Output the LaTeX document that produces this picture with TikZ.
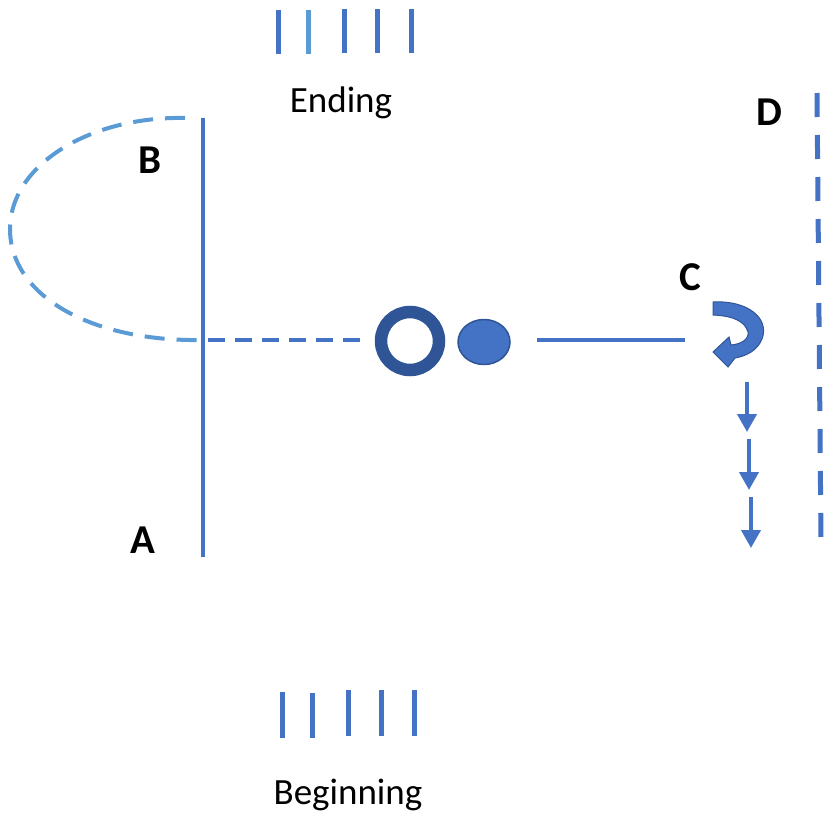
\documentclass[tikz,border=0pt]{standalone}
\usepackage{fontspec}
\setmainfont{Carlito}
\usetikzlibrary{arrows.meta,shapes.geometric}
\definecolor{mblue}{HTML}{4472C4}
\definecolor{lblue}{HTML}{5B9BD5}
\definecolor{dblue}{HTML}{2F5597}
\begin{document}
\begin{tikzpicture}[x=1pt,y=-1pt,
  lbl/.style={font=\fontsize{41}{48}\selectfont\bfseries, text=black, inner sep=0pt},
  captext/.style={font=\fontsize{37}{44}\selectfont, text=black, inner sep=0pt, anchor=base},
  tick/.style={draw=mblue, line width=5pt},
  ltick/.style={draw=lblue, line width=5pt},
  downarrow/.style={draw=mblue, line width=4pt, -{Triangle[width=19pt,length=18pt]}}]
\useasboundingbox (0,0) rectangle (824,814);
% top ticks
\draw[tick] (278,10) -- (278,54);
\draw[ltick] (308,10) -- (308,54);
\draw[tick] (344,9) -- (344,53);
\draw[tick] (377,9) -- (377,53);
\draw[tick] (411,9) -- (411,53);
\node[captext] (ending) at (341,112) {Ending};
% bottom ticks
\draw[tick] (282,692) -- (282,738);
\draw[tick] (312,693) -- (312,738);
\draw[tick] (348,690) -- (348,736);
\draw[tick] (381,690) -- (381,736);
\draw[tick] (414,690) -- (414,736);
\node[captext] (beginning) at (348,804) {Beginning};
% labels
\node[lbl] (B) at (150,160) {B};
\node[lbl] (A) at (143,540) {A};
\node[lbl] (C) at (690,277) {C};
\node[lbl] (D) at (769,112) {D};
% vertical line
\coordinate (Atop) at (203,118);
\coordinate (Abot) at (203,557);
\coordinate (X) at (203,340);
\draw[mblue, line width=3.5pt] (Atop) -- (Abot);
% dashed loop
\draw[lblue, line width=4pt, dash pattern=on 20pt off 12pt]
  (185,118) .. controls (90,116) and (10,165) .. (10,229)
  .. controls (10,295) and (90,342) .. (X);
% ring and disk
\node[circle, draw=dblue, line width=12.5pt, minimum size=58pt, inner sep=0pt] (ring) at (410,341) {};
\node[ellipse, draw=dblue, fill=mblue, line width=1.5pt, minimum width=52pt, minimum height=45pt, inner sep=0pt] (disk) at (484,342) {};
% dashed line
\coordinate (dashend) at (365,340);
\draw[mblue, line width=3.5pt, dash pattern=on 17pt off 10pt] (X) ++(5,0) -- (dashend);
% solid line
\coordinate (s1) at (537,340);
\coordinate (s2) at (685,340);
\draw[mblue, line width=3.5pt] (s1) -- (s2);
% curved arrow
\fill[mblue, draw=dblue, line width=1pt]
  (713,302) .. controls (747,300) and (770,318) .. (762,339)
  .. controls (757,351) and (746,356) .. (735,358)
  -- (728,367) -- (713,352) -- (729,337) -- (731,345)
  .. controls (742,344) and (749,339) .. (748,332)
  .. controls (745,322) and (735,316) .. (713,315) -- cycle;
% down arrows
\coordinate (d1a) at (747,382); \coordinate (d1b) at (747,432);
\coordinate (d2a) at (749,439); \coordinate (d2b) at (749,490);
\coordinate (d3a) at (751,497); \coordinate (d3b) at (751,548);
\draw[downarrow] (d1a) -- (d1b);
\draw[downarrow] (d2a) -- (d2b);
\draw[downarrow] (d3a) -- (d3b);
% D dashed line
\coordinate (Dtop) at (817,93);
\coordinate (Dbot) at (821,543);
\draw[mblue, line width=5pt, dash pattern=on 24pt off 18pt] (Dtop) -- (Dbot);
\end{tikzpicture}
\end{document}
